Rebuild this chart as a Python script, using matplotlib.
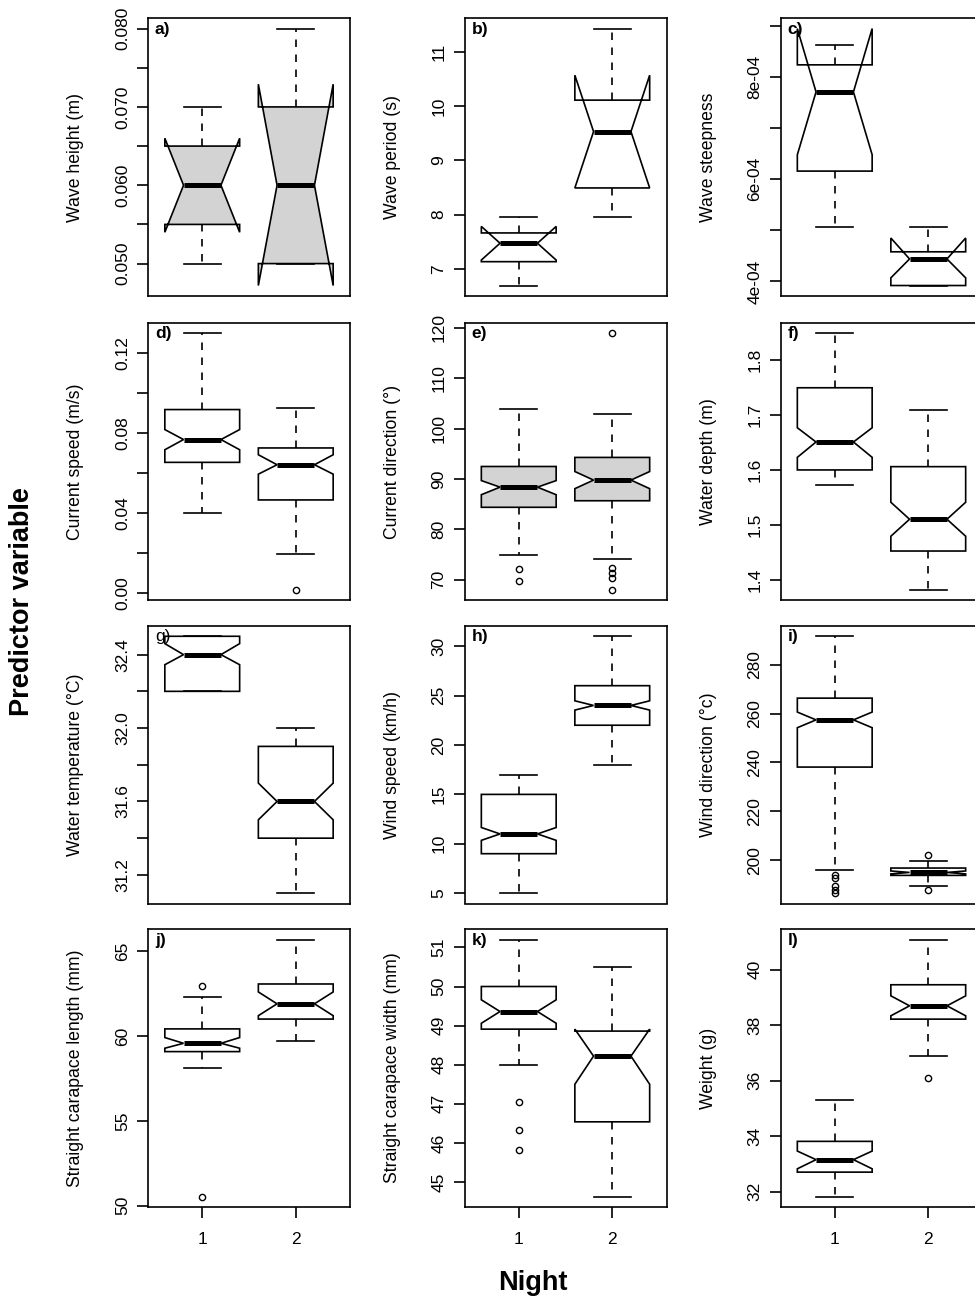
import matplotlib
matplotlib.use('Agg')
import matplotlib.pyplot as plt

plt.rcParams['font.family'] = ['Liberation Sans', 'DejaVu Sans']

# panel tags and axis titles
PANELS = ['a)', 'b)', 'c)', 'd)', 'e)', 'f)', 'g)', 'h)', 'i)', 'j)', 'k)', 'l)']
YLABELS = ['Wave height (m)', 'Wave period (s)', 'Wave steepness',
           'Current speed (m/s)', 'Current direction (°)', 'Water depth (m)',
           'Water temperature (°C)', 'Wind speed (km/h)', 'Wind direction (°c)',
           'Straight carapace length (mm)', 'Straight carapace width (mm)', 'Weight (g)']
FILLED = [True, False, False, False, True, False,
          False, False, False, False, False, False]
NIGHTS = ['1', '2']

# box statistics per panel: [night 1, night 2]
WHISLO = [[0.050, 0.050], [6.69, 7.95], [5.06e-4, 3.92e-4], [0.040, 0.0196],
          [75.0, 74.2], [1.572, 1.381], [32.2, 31.1], [5, 18],
          [195.9, 189.5], [58.13, 59.73], [48.0, 44.63], [31.82, 36.89]]
Q1 = [[0.055, 0.050], [7.13, 8.49], [6.16e-4, 3.92e-4], [0.0653, 0.0465],
      [84.4, 85.7], [1.600, 1.452], [32.2, 31.4], [9, 22],
      [238.1, 193.8], [59.08, 61.0], [48.91, 46.54], [32.70, 38.22]]
MED = [[0.060, 0.060], [7.47, 9.53], [7.71e-4, 4.44e-4], [0.0767, 0.0641],
       [88.4, 89.8], [1.651, 1.510], [32.4, 31.6], [11, 24],
       [257.4, 195.0], [59.57, 61.9], [49.36, 48.22], [33.15, 38.70]]
Q3 = [[0.065, 0.070], [7.66, 10.11], [8.24e-4, 4.58e-4], [0.0917, 0.0725],
      [92.5, 94.3], [1.750, 1.606], [32.5, 31.9], [15, 26],
      [266.3, 196.8], [60.42, 63.07], [50.0, 48.86], [33.81, 39.46]]
WHISHI = [[0.070, 0.080], [7.95, 11.43], [8.62e-4, 5.07e-4], [0.130, 0.0924],
          [104.0, 103.0], [1.850, 1.710], [32.5, 32.0], [17, 31],
          [291.6, 199.7], [62.30, 65.69], [51.2, 50.51], [35.29, 41.09]]
CILO = [[0.0540, 0.0472], [7.16, 8.49], [6.48e-4, 4.07e-4], [0.0716, 0.0594],
        [86.9, 88.1], [1.623, 1.479], [32.345, 31.5], [10.35, 23.53],
        [254.2, 194.4], [59.28, 61.2], [49.06, 47.50], [32.82, 38.34]]
CIHI = [[0.0660, 0.0729], [7.78, 10.57], [8.95e-4, 4.85e-4], [0.0817, 0.0691],
        [89.7, 91.5], [1.677, 1.541], [32.46, 31.7], [11.65, 24.47],
        [260.6, 195.6], [59.91, 62.6], [49.66, 48.91], [33.46, 39.06]]
FLIERS = [[[], []], [[], []], [[], []], [[], [0.0015]],
          [[72.1, 69.7], [72.4, 71.3, 70.3, 68.0, 119.0]], [[], []],
          [[], []], [[], []],
          [[194.0, 192.8, 189.5, 188.0, 186.5], [202.0, 187.7]],
          [[62.93, 50.53], []], [[47.04, 46.33, 45.83], []], [[], [36.10]]]

YTICKS = [[0.050, 0.055, 0.060, 0.065, 0.070, 0.075, 0.080],
          [7, 8, 9, 10, 11],
          [4e-4, 5e-4, 6e-4, 7e-4, 8e-4, 9e-4],
          [0.00, 0.02, 0.04, 0.06, 0.08, 0.10, 0.12],
          [70, 80, 90, 100, 110, 120],
          [1.4, 1.5, 1.6, 1.7, 1.8],
          [31.2, 31.4, 31.6, 31.8, 32.0, 32.2, 32.4],
          [5, 10, 15, 20, 25, 30],
          [200, 220, 240, 260, 280],
          [50, 55, 60, 65],
          [45, 46, 47, 48, 49, 50, 51],
          [32, 34, 36, 38, 40]]
YTICKLABELS = [['0.050', '', '0.060', '', '0.070', '', '0.080'],
               ['7', '8', '9', '10', '11'],
               ['4e-04', '', '6e-04', '', '8e-04', ''],
               ['0.00', '', '0.04', '', '0.08', '', '0.12'],
               ['70', '80', '90', '100', '110', '120'],
               ['1.4', '1.5', '1.6', '1.7', '1.8'],
               ['31.2', '', '31.6', '', '32.0', '', '32.4'],
               ['5', '10', '15', '20', '25', '30'],
               ['200', '220', '240', '260', '280'],
               ['50', '55', '60', '65'],
               ['45', '46', '47', '48', '49', '50', '51'],
               ['32', '34', '36', '38', '40']]

W, H = 975, 1301
fig = plt.figure(figsize=(W / 100, H / 100), dpi=100)
col_left = [148, 464.5, 780.5]
row_top = [18.3, 322.7, 626, 929.3]
aw, ah = 202, 277.5
lw = 1.2

for i in range(12):
    r, c = divmod(i, 3)
    ax = fig.add_axes([col_left[c] / W, 1 - (row_top[r] + ah) / H, aw / W, ah / H])
    stats = []
    vals = []
    for k in range(2):
        s = dict(whislo=WHISLO[i][k], q1=Q1[i][k], med=MED[i][k], q3=Q3[i][k],
                 whishi=WHISHI[i][k], cilo=CILO[i][k], cihi=CIHI[i][k],
                 fliers=FLIERS[i][k])
        stats.append(s)
        vals += [s['whislo'], s['whishi'], s['q1'], s['q3'], s['cilo'], s['cihi']]
        vals += list(FLIERS[i][k])
    face = '#D3D3D3' if FILLED[i] else 'white'
    ax.bxp(stats, positions=[1, 2], widths=0.8, shownotches=True, patch_artist=True,
           boxprops=dict(facecolor=face, edgecolor='black', linewidth=lw),
           whiskerprops=dict(color='black', linewidth=lw, linestyle=(0, (4.5, 4.5))),
           capprops=dict(color='black', linewidth=lw),
           medianprops=dict(color='black', linewidth=3.6, solid_capstyle='butt'),
           flierprops=dict(marker='o', markerfacecolor='none', markeredgecolor='black',
                           markersize=4.5, markeredgewidth=1.0))
    lo, hi = min(vals), max(vals)
    pad = 0.04 * (hi - lo)
    ax.set_ylim(lo - pad, hi + pad)
    ax.set_xlim(0.42, 2.58)

    ax.set_yticks(YTICKS[i])
    ax.set_yticklabels(YTICKLABELS[i], rotation=90, va='center')
    ax.tick_params(axis='y', length=8, width=lw, pad=5, labelsize=12.5)
    if r == 3:
        ax.set_xticks([1, 2])
        ax.set_xticklabels(NIGHTS)
        ax.tick_params(axis='x', length=8, width=lw, pad=10.5, labelsize=12.5)
    else:
        ax.set_xticks([])
    for sp in ax.spines.values():
        sp.set_linewidth(lw)

    ax.text(-72 / aw, 0.5, YLABELS[i], rotation=90, transform=ax.transAxes,
            ha='center', va='center', fontsize=12.7)
    ax.annotate(PANELS[i], xy=(0, 1), xycoords='axes fraction', xytext=(5, -2.5),
                textcoords='offset points', ha='left', va='top', fontsize=12.5,
                fontweight='normal' if PANELS[i] == 'g)' else 'bold')

fig.text(22 / W, 1 - 602 / H, 'Predictor variable', rotation=90, ha='center',
         va='center', fontsize=19.5, fontweight='bold')
fig.text(533 / W, 1 - 1283 / H, 'Night', ha='center', va='center',
         fontsize=19.5, fontweight='bold')

fig.savefig('out.png', dpi=100)
